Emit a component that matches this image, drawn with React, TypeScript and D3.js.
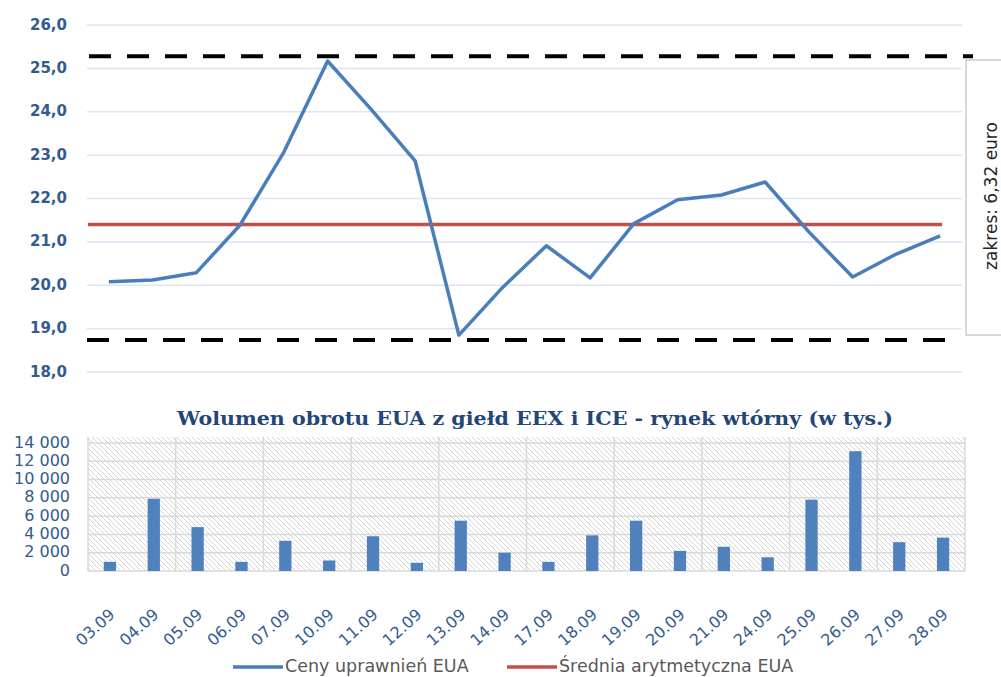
import React from "react";
import * as d3 from "d3";

const dates = [
  "03.09", "04.09", "05.09", "06.09", "07.09", "10.09", "11.09", "12.09", "13.09", "14.09",
  "17.09", "18.09", "19.09", "20.09", "21.09", "24.09", "25.09", "26.09", "27.09", "28.09",
];

const prices = [
  20.08, 20.12, 20.29, 21.39, 23.07, 25.17, 24.05, 22.87, 18.85, 19.95,
  20.91, 20.17, 21.42, 21.97, 22.08, 22.38, 21.23, 20.19, 20.72, 21.14,
];

const volumes = [
  1000, 7900, 4800, 1000, 3300, 1150, 3800, 900, 5500, 2000,
  1000, 3900, 5500, 2200, 2650, 1500, 7800, 13100, 3150, 3650,
];

const priceTicks = [18, 19, 20, 21, 22, 23, 24, 25, 26];
const volumeTicks = [0, 2000, 4000, 6000, 8000, 10000, 12000, 14000];

const upperBound = 25.28;
const lowerBound = 18.74;
const rangeLabel = "zakres: 6,32 euro";
const barTitle = "Wolumen obrotu EUA z giełd EEX i ICE - rynek wtórny (w tys.)";
const seriesNames = ["Ceny uprawnień EUA", "Średnia arytmetyczna EUA"];

const WIDTH = 1001;
const HEIGHT = 677;
const BLUE = "#4a7ebb";
const RED = "#c0504d";
const AXIS_TEXT = "#335b8e";

const plLocale = d3.formatLocale({
  decimal: ",",
  thousands: " ",
  grouping: [3],
  currency: ["", " zł"],
});
const fmtPrice = plLocale.format(".1f");
const fmtVolume = plLocale.format(",");

export default function App() {
  // line chart scales
  const xLine = d3.scaleBand<string>().domain(dates).range([87, 962]);
  const yLine = d3.scaleLinear().domain([18, 26]).range([372, 25]);
  const cx = (d: string) => (xLine(d) ?? 0) + xLine.bandwidth() / 2;

  const linePath = d3
    .line<number>()
    .x((_, i) => cx(dates[i]))
    .y((v) => yLine(v))(prices);

  const mean = d3.mean(prices) ?? 0;

  // bar chart scales
  const xBar = d3.scaleBand<string>().domain(dates).range([88, 965]);
  const yBar = d3.scaleLinear().domain([0, 14000]).range([571, 443]);
  const barW = xBar.bandwidth() * 0.28;

  return (
    <svg
      width={WIDTH}
      height={HEIGHT}
      style={{ position: "absolute", left: 0, top: 0, background: "#fff" }}
      fontFamily="DejaVu Sans, sans-serif"
    >
      <defs>
        <pattern id="hatch" width="5" height="5" patternUnits="userSpaceOnUse">
          <rect width="5" height="5" fill="#fff" />
          <path d="M-1,-1 L6,6 M-1,4 L1,6 M4,-1 L6,1" stroke="#cfcfcf" strokeWidth="0.9" />
        </pattern>
      </defs>

      {/* price chart */}
      <g>
        {priceTicks.map((t) => (
          <g key={t}>
            <line x1={87} x2={962} y1={yLine(t)} y2={yLine(t)} stroke="#dbe5f4" strokeWidth={1.5} />
            <text
              x={67}
              y={yLine(t)}
              textAnchor="end"
              dominantBaseline="middle"
              fontSize={15}
              fontWeight="bold"
              fill={AXIS_TEXT}
            >
              {fmtPrice(t)}
            </text>
          </g>
        ))}

        <line
          x1={89}
          x2={973}
          y1={yLine(upperBound)}
          y2={yLine(upperBound)}
          stroke="#000"
          strokeWidth={4}
          strokeDasharray="22 16"
        />
        <line
          x1={87}
          x2={958}
          y1={yLine(lowerBound)}
          y2={yLine(lowerBound)}
          stroke="#000"
          strokeWidth={4}
          strokeDasharray="22 16"
        />

        <line
          x1={88}
          x2={cx(dates[dates.length - 1]) + 2}
          y1={yLine(mean)}
          y2={yLine(mean)}
          stroke={RED}
          strokeWidth={3.5}
        />
        <path d={linePath ?? ""} fill="none" stroke={BLUE} strokeWidth={3.5} strokeLinejoin="round" />

        <rect x={966} y={60} width={50} height={275} fill="#fff" stroke="#bfbfbf" strokeWidth={1.2} />
        <text
          transform={`translate(997, 196) rotate(-90)`}
          textAnchor="middle"
          fontSize={17}
          fill="#262626"
        >
          {rangeLabel}
        </text>
      </g>

      {/* volume chart */}
      <g>
        <text
          x={535}
          y={425}
          textAnchor="middle"
          fontFamily="DejaVu Serif, serif"
          fontWeight="bold"
          fontSize={19}
          textLength={716}
          lengthAdjust="spacingAndGlyphs"
          fill="#234677"
        >
          {barTitle}
        </text>

        <rect x={88} y={437} width={965 - 88} height={571 - 437} fill="url(#hatch)" />
        {volumeTicks.map((t) => (
          <g key={t}>
            <line x1={88} x2={965} y1={yBar(t)} y2={yBar(t)} stroke="#d9d9d9" strokeWidth={1.5} />
            <text
              x={70}
              y={yBar(t)}
              textAnchor="end"
              dominantBaseline="middle"
              fontSize={16}
              fill={AXIS_TEXT}
            >
              {fmtVolume(t)}
            </text>
          </g>
        ))}
        {dates
          .filter((_, i) => i % 2 === 0)
          .map((d) => (
            <line key={d} x1={xBar(d)} x2={xBar(d)} y1={437} y2={571} stroke="#d9d9d9" strokeWidth={1.5} />
          ))}
        <line x1={965} x2={965} y1={437} y2={571} stroke="#d9d9d9" strokeWidth={1.5} />

        {volumes.map((v, i) => {
          const d = dates[i];
          const x = (xBar(d) ?? 0) + xBar.bandwidth() / 2 - barW / 2;
          return <rect key={d} x={x} y={yBar(v)} width={barW} height={yBar(0) - yBar(v)} fill="#4f81bd" />;
        })}

        {dates.map((d) => {
          const x = (xBar(d) ?? 0) + xBar.bandwidth() / 2 + 6;
          return (
            <text
              key={d}
              transform={`translate(${x}, 616) rotate(-42)`}
              textAnchor="end"
              fontSize={16}
              fill={AXIS_TEXT}
            >
              {d}
            </text>
          );
        })}
      </g>

      {/* legend */}
      <g fontSize={17.5} fill="#595959">
        <line x1={233} x2={283} y1={667} y2={667} stroke={BLUE} strokeWidth={3.5} />
        <text x={285} y={672}>{seriesNames[0]}</text>
        <line x1={507} x2={557} y1={667} y2={667} stroke={RED} strokeWidth={3.5} />
        <text x={559} y={672}>{seriesNames[1]}</text>
      </g>
    </svg>
  );
}
